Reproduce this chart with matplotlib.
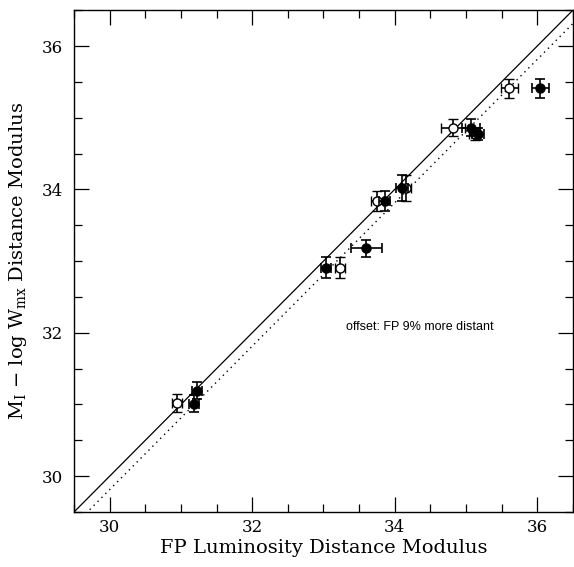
import numpy as np
import matplotlib
matplotlib.use("Agg")
import matplotlib.pyplot as plt
from matplotlib.ticker import MultipleLocator

plt.rcParams['mathtext.fontset'] = 'dejavuserif'

# Filled points
fx = [31.18, 31.23, 33.04, 33.60, 33.86, 34.10, 35.07, 35.17, 36.04]
fy = [31.01, 31.19, 32.91, 33.18, 33.84, 34.02, 34.86, 34.77, 35.41]
fxe = [0.07, 0.07, 0.07, 0.22, 0.08, 0.08, 0.13, 0.08, 0.12]
fye = [0.12, 0.12, 0.15, 0.12, 0.14, 0.18, 0.12, 0.08, 0.13]

# Open points
ox = [30.94, 33.23, 33.75, 34.16, 34.82, 35.12, 35.61]
oy = [31.02, 32.91, 33.84, 34.02, 34.86, 34.77, 35.41]
oxe = [0.07, 0.07, 0.08, 0.07, 0.17, 0.08, 0.12]
oye = [0.12, 0.15, 0.14, 0.18, 0.12, 0.08, 0.13]

offset_frac = 0.09
lims = [29.5, 36.5]

fig = plt.figure(figsize=(5.74, 5.67), dpi=100)
ax = fig.add_axes([0.129, 0.097, 0.869, 0.885])

line = np.array(lims)
ax.plot(line, line, color='black', lw=0.9)
off = 5 * np.log10(1 + offset_frac)
ax.plot(line, line - off, color='black', lw=1.0, ls=(0, (1, 3)))

ax.errorbar(ox, oy, xerr=oxe, yerr=oye, fmt='o', mfc='white', mec='black',
            ms=6.5, mew=1.0, ecolor='black', elinewidth=1.2, capsize=3.6, capthick=1.2,
            zorder=3)
ax.errorbar(fx, fy, xerr=fxe, yerr=fye, fmt='o', mfc='black', mec='black',
            ms=6.5, ecolor='black', elinewidth=1.2, capsize=3.6, capthick=1.2,
            zorder=4)

ax.set_xlim(lims)
ax.set_ylim(lims)
for a in (ax.xaxis, ax.yaxis):
    a.set_major_locator(MultipleLocator(2))
    a.set_minor_locator(MultipleLocator(0.5))
ax.tick_params(which='both', direction='in', top=True, right=True, width=0.9)
ax.tick_params(which='major', length=11, labelsize=12)
ax.tick_params(axis='x', which='major', pad=5)
ax.tick_params(axis='y', which='major', pad=8)
ax.tick_params(which='minor', length=5.5)
for lab in ax.get_xticklabels() + ax.get_yticklabels():
    lab.set_family('DejaVu Serif')
for s in ax.spines.values():
    s.set_linewidth(1.0)

ax.text(33.31, 32.08, 'offset: FP 9% more distant', fontsize=9,
        family='Liberation Sans', va='center')

ax.set_xlabel('FP Luminosity Distance Modulus', family='DejaVu Serif',
              fontsize=14, labelpad=2)
ax.set_ylabel(r'M$_{\rm I}$ $-$ log W$_{\rm mx}$ Distance Modulus',
              family='DejaVu Serif', fontsize=14, labelpad=9)

fig.savefig('out.png', dpi=100)
